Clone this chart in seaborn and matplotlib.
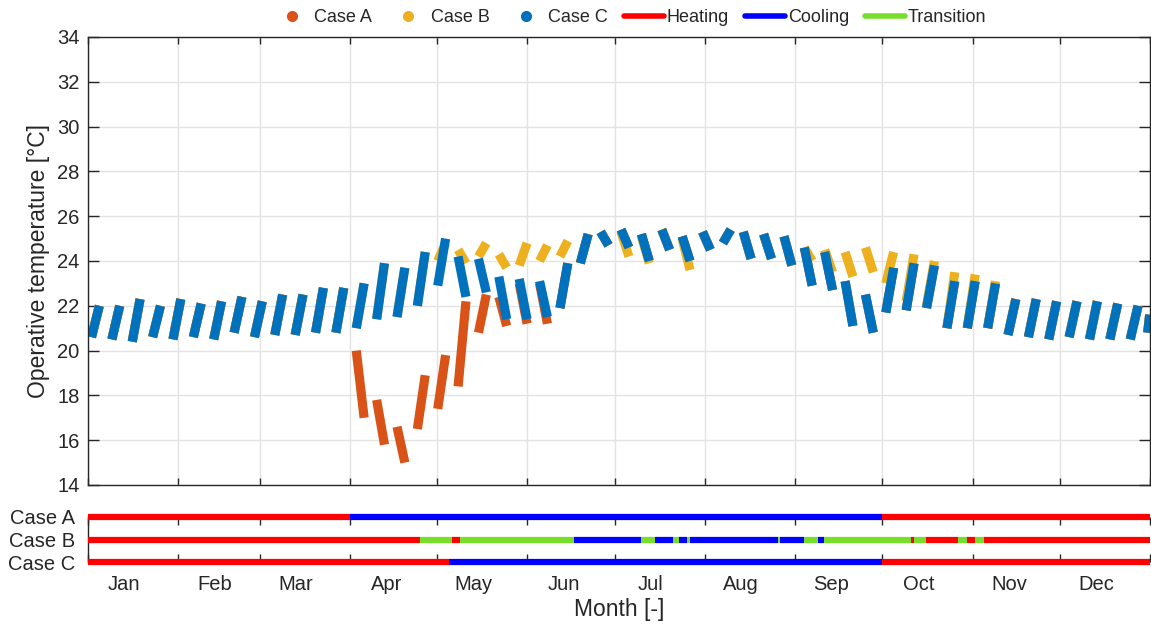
import numpy as np
import pandas as pd
import matplotlib
matplotlib.use("Agg")
import matplotlib.pyplot as plt
from matplotlib.lines import Line2D
import seaborn as sns

# ---------------- data ----------------
months = ["Jan", "Feb", "Mar", "Apr", "May", "Jun", "Jul", "Aug", "Sep", "Oct", "Nov", "Dec"]
month_start = [0, 31, 59, 90, 120, 151, 181, 212, 243, 273, 304, 334, 365]

# Case C: operative temperature at start (Monday) and end (Friday) of each occupied week
c_start = [20.6, 20.5, 20.4, 20.6, 20.5, 20.6, 20.5, 20.8, 20.6, 20.7,
           20.7, 20.8, 20.8, 21.0, 21.4, 21.5, 22.0, 22.9, 24.2, 24.1,
           23.3, 23.2, 23.1, 21.9, 23.9, 25.3, 25.4, 25.2, 25.4, 25.1,
           25.3, 24.8, 25.3, 25.2, 25.1, 24.6, 24.4, 23.1, 22.5, 21.7,
           21.8, 21.9, 21.0, 21.0, 21.0, 20.7, 20.6, 20.5, 20.6, 20.5,
           20.5, 20.5, 20.8]
c_end = [22.0, 22.0, 22.3, 22.0, 22.3, 22.1, 22.2, 22.4, 22.2, 22.5,
         22.5, 22.8, 22.8, 23.0, 23.9, 23.7, 24.4, 25.0, 22.4, 22.6,
         21.4, 21.4, 21.5, 23.9, 25.2, 24.7, 24.6, 24.0, 24.5, 24.0,
         24.5, 25.4, 24.1, 24.1, 23.8, 22.9, 22.7, 21.1, 20.8, 23.7,
         23.9, 23.8, 23.1, 23.1, 23.0, 22.3, 22.3, 22.2, 22.2, 22.2,
         22.1, 22.0, 21.6]

# Case A: weeks that differ from Case C
a_weeks = [13, 14, 15, 16, 17, 18, 19, 20, 21, 22]
a_start = [20.0, 17.8, 16.6, 16.5, 17.4, 18.4, 20.8, 22.4, 23.0, 23.0]
a_end = [17.0, 15.8, 15.0, 18.9, 19.8, 22.2, 22.5, 21.1, 21.2, 21.2]

# Case B: weeks that differ from Case C
b_weeks = [17, 18, 19, 20, 21, 22, 23, 26, 27, 29,
           35, 36, 37, 38, 39, 40, 41, 42, 43, 44]
b_start = [24.0, 24.5, 24.2, 24.3, 23.8, 24.0, 24.2, 25.3, 25.1, 25.0,
           24.6, 24.5, 24.4, 24.6, 23.0, 22.2, 22.0, 21.0, 21.0, 21.0]
b_end = [24.8, 23.9, 24.8, 23.7, 24.8, 24.7, 24.9, 24.2, 23.9, 23.6,
         24.0, 23.5, 23.3, 23.5, 24.4, 24.3, 24.0, 23.5, 23.4, 23.1]

# HVAC operating mode per case: change days and modes
a_mode_days = [0, 90, 273, 365]
a_modes = ["Heating", "Cooling", "Heating"]
b_mode_days = [0, 114, 125, 128, 167, 190, 195, 201, 203, 206, 207, 237, 238,
               246, 251, 253, 283, 284, 288, 299, 302, 305, 308, 365]
b_modes = ["Heating", "Transition", "Heating", "Transition", "Cooling", "Transition",
           "Cooling", "Transition", "Cooling", "Transition", "Cooling", "Transition",
           "Cooling", "Transition", "Cooling", "Transition", "Heating", "Transition",
           "Heating", "Transition", "Heating", "Transition", "Heating"]
c_mode_days = [0, 124, 273, 365]
c_modes = ["Heating", "Cooling", "Heating"]

case_colors = {"Case A": "#D95319", "Case B": "#EDB120", "Case C": "#0072BD"}
mode_colors = {"Heating": "#FF0000", "Cooling": "#0000FF", "Transition": "#77DE2C"}

# ---------------- build tables ----------------
def full_series(weeks, s, e):
    st, en = list(c_start), list(c_end)
    for w, a, b in zip(weeks, s, e):
        st[w], en[w] = a, b
    return st, en

series = {
    "Case A": full_series(a_weeks, a_start, a_end),
    "Case B": full_series(b_weeks, b_start, b_end),
    "Case C": (c_start, c_end),
}
rows = []
for case, (st, en) in series.items():
    for w, (t0, t1) in enumerate(zip(st, en)):
        d0 = min(7 * w + 1.2, 364.2)
        d1 = min(7 * w + 3.9, 364.9)
        rows.append({"case": case, "week": w, "day": d0, "temp": t0})
        rows.append({"case": case, "week": w, "day": d1, "temp": t1})
df = pd.DataFrame(rows)

# ---------------- figure ----------------
sns.set_style("white")
plt.rcParams["font.family"] = ["Liberation Sans", "DejaVu Sans"]
dark = "#262626"
plt.rcParams["text.color"] = dark
plt.rcParams["axes.labelcolor"] = dark
plt.rcParams["xtick.color"] = dark
plt.rcParams["ytick.color"] = dark

W, H = 1151, 627
fig = plt.figure(figsize=(W / 100, H / 100), dpi=100)
ax = fig.add_axes([88 / W, 1 - 485 / H, 1062 / W, 448 / H])
ax2 = fig.add_axes([88 / W, 1 - 562 / H, 1062 / W, 45 / H])

sns.lineplot(data=df, x="day", y="temp", hue="case", units="week", estimator=None,
             hue_order=["Case A", "Case B", "Case C"], palette=case_colors,
             linewidth=6.6, solid_capstyle="butt", sort=False, legend=False, ax=ax)

ax.set_xlim(0, 365)
ax.set_ylim(14, 34)
ax.set_yticks(np.arange(14, 35, 2))
ax.set_xticks(month_start)
ax.set_xticklabels([])
ax.set_xlabel("")
ax.set_ylabel("Operative temperature [°C]", fontsize=16.5, labelpad=5)
ax.grid(True, color="#E3E3E3", linewidth=1)
ax.tick_params(axis="y", direction="in", left=True, right=True, length=8,
               width=1, labelsize=14.5, pad=6)
ax.tick_params(axis="x", direction="in", top=True, bottom=True, length=5, width=1)
for s in ax.spines.values():
    s.set_color(dark)
    s.set_linewidth(1)

# mode bars
rows_y = {"Case A": 3, "Case B": 2, "Case C": 1}
for case, days, modes in [("Case A", a_mode_days, a_modes),
                          ("Case B", b_mode_days, b_modes),
                          ("Case C", c_mode_days, c_modes)]:
    for d0, d1, m in zip(days[:-1], days[1:], modes):
        ax2.hlines(rows_y[case], d0, d1, colors=mode_colors[m], linewidth=4.5,
                   clip_on=False, zorder=3)
ax2.set_xlim(0, 365)
ax2.set_ylim(1, 3)
ax2.set_yticks([3, 2, 1])
ax2.set_yticklabels(["Case A", "Case B", "Case C"])
ax2.set_xticks(month_start)
ax2.set_xticklabels([])
ax2.set_xticks([m + 12.5 for m in month_start[:-1]], minor=True)
ax2.set_xticklabels(months, minor=True)
ax2.tick_params(axis="x", which="major", direction="in", top=True, bottom=True,
                length=6, width=1)
ax2.tick_params(axis="x", which="minor", length=0, labelsize=14.5, pad=9.5)
ax2.tick_params(axis="y", length=0, labelsize=14.5, pad=9)
ax2.set_xlabel("Month [-]", fontsize=16.5, labelpad=3)
for k in ["top", "bottom", "right"]:
    ax2.spines[k].set_visible(False)
ax2.spines["left"].set_color(dark)
ax2.spines["left"].set_linewidth(1)
ax2.grid(False)

# legend
handles = [Line2D([], [], ls="", marker="o", markersize=7, color=case_colors[c])
           for c in ["Case A", "Case B", "Case C"]]
handles += [Line2D([], [], color=mode_colors[m], linewidth=4)
            for m in ["Heating", "Cooling", "Transition"]]
labels = ["Case A", "Case B", "Case C", "Heating", "Cooling", "Transition"]
fig.legend(handles, labels, loc="center", bbox_to_anchor=(629 / W, 1 - 18 / H),
           ncol=6, frameon=False, fontsize=13, handlelength=2.2,
           handletextpad=0.15, columnspacing=0.9)

fig.savefig("out.png", dpi=100)
